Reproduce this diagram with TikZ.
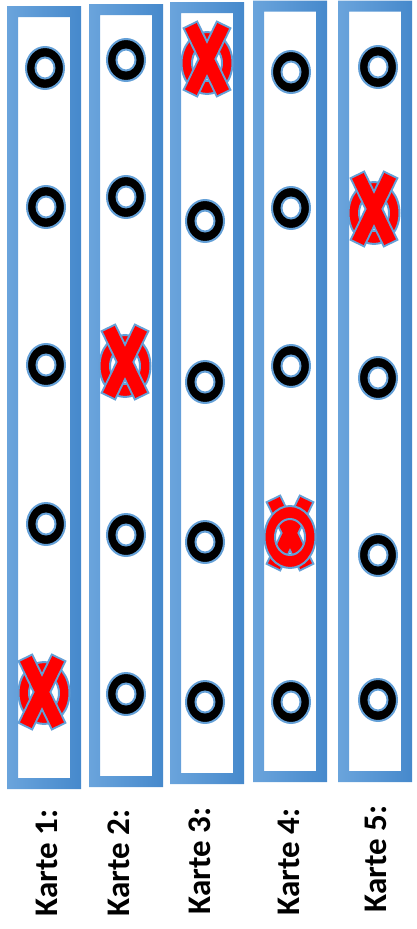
\documentclass[tikz,border=0pt]{standalone}
\usepackage{fontspec}
\setmainfont{Carlito}
\definecolor{cardA}{RGB}{106,164,220}
\definecolor{cardB}{RGB}{70,137,204}
\definecolor{outl}{RGB}{100,160,215}
\definecolor{xred}{RGB}{255,0,0}
\newcommand\CardFrame[4]{%
  \shade[left color=cardA,right color=cardB,even odd rule]
    (#1,#2) rectangle (#3,#4) ({#1+11},{#2+11}) rectangle ({#3-11},{#4-11});}
\newcommand\ORing[2]{%
  \fill[black,even odd rule,draw=outl,line width=2pt]
    (#1,#2) ellipse [x radius=19pt,y radius=21pt]
    (#1,#2) ellipse [x radius=9.5pt,y radius=10.5pt];}
\newcommand\RRing[2]{%
  \fill[xred,even odd rule,draw=outl,line width=2pt]
    (#1,#2) ellipse [x radius=25.5pt,y radius=31pt]
    (#1,#2) ellipse [x radius=15pt,y radius=18pt];}
\newcommand\XCross[2]{%
  \begin{scope}[shift={(#1,#2)}]
    \draw[outl,line width=17pt] (-17,-35) -- (17,35) (17,-35) -- (-17,35);
    \draw[xred,line width=13pt,shorten <=2pt,shorten >=2pt] (-17,-35) -- (17,35);
    \draw[xred,line width=13pt,shorten <=2pt,shorten >=2pt] (17,-35) -- (-17,35);
  \end{scope}}
\begin{document}
\begin{tikzpicture}[x=1pt,y=-1pt,
  lab/.style={rotate=90,font=\bfseries\fontsize{33}{33}\selectfont,inner sep=0pt}]
\useasboundingbox (0,0) rectangle (416,929);
% cards
\CardFrame{7}{6}{81}{789}
\CardFrame{89}{4}{163}{787}
\CardFrame{170}{2}{244}{784}
\CardFrame{253}{0.5}{327}{782}
\CardFrame{338}{0.5}{412}{782}
% card 1
\ORing{45}{68}
\ORing{46}{207}
\ORing{46}{365}
\ORing{46}{524}
\RRing{44}{693}\XCross{42}{692}
% card 2
\ORing{126}{60}
\ORing{126}{197}
\RRing{125}{366}\XCross{125}{362}
\ORing{126}{535}
\ORing{126}{694}
% card 3
\RRing{207}{63}\XCross{207}{59}
\ORing{205}{221}
\ORing{205}{382}
\ORing{205}{542}
\ORing{205}{702}
% card 4
\ORing{291}{72}
\ORing{291}{208}
\ORing{291}{366}
\XCross{290}{533}\RRing{290}{537}
\ORing{291}{702}
% card 5
\ORing{378}{67}
\RRing{374}{213}\XCross{374}{209}
\ORing{378}{378}
\ORing{378}{555}
\ORing{378}{700}
% labels
\node[lab] (k1) at (47,863) {Karte 1:};
\node[lab] (k2) at (119,863) {Karte 2:};
\node[lab] (k3) at (200,861) {Karte 3:};
\node[lab] (k4) at (289,862) {Karte 4:};
\node[lab] (k5) at (376,859) {Karte 5:};
\end{tikzpicture}
\end{document}
